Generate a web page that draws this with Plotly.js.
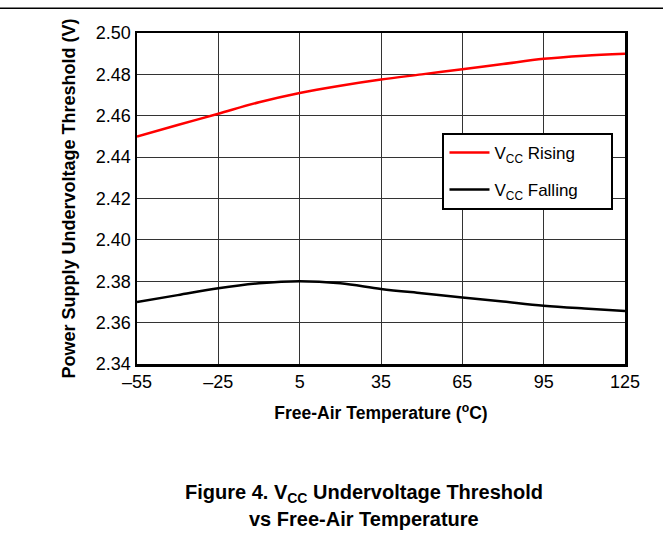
<!DOCTYPE html>
<html>
<head>
<meta charset="utf-8">
<script src="https://cdn.plot.ly/plotly-3.0.1.min.js"></script>
<style>html,body{margin:0;padding:0;background:#fff;}#chart{width:663px;height:533px;}</style>
</head>
<body>
<div id="chart"></div>
<script>
const temperature = [-55, -40, -25, -10, 5, 20, 35, 50, 65, 80, 95, 110, 125];
const vccRising  = [2.450, 2.4555, 2.461, 2.4665, 2.471, 2.4745, 2.4775, 2.480, 2.4825, 2.485, 2.4875, 2.489, 2.490];
const vccFalling = [2.370, 2.3733, 2.3766, 2.3790, 2.380, 2.3790, 2.3763, 2.3742, 2.3722, 2.3702, 2.3682, 2.3668, 2.3656];
const xTickVals = [-55, -25, 5, 35, 65, 95, 125];
const xTickText = ["\u201355", "\u201325", "5", "35", "65", "95", "125"];
const yTickVals = [2.34, 2.36, 2.38, 2.40, 2.42, 2.44, 2.46, 2.48, 2.50];

const font = "Arial, 'Liberation Sans', sans-serif";
const pad = "\u00a0\u00a0\u00a0\u00a0\u00a0\u00a0";
const traces = [
  {x: temperature, y: vccRising, name: "V<sub>CC</sub> Rising" + pad, legendgroup: "r", mode: "lines", line: {color: "#ff0000", width: 2.5, shape: "spline"}},
  {x: temperature, y: vccFalling, name: "V<sub>CC</sub> Falling" + pad, legendgroup: "f", mode: "lines", line: {color: "#000000", width: 2.5, shape: "spline"}}
];
const layout = {
  width: 663, height: 533,
  margin: {l: 137, r: 38, t: 33, b: 169},
  paper_bgcolor: "#fff", plot_bgcolor: "#fff",
  font: {family: font, size: 17, color: "#000"},
  showlegend: true,
  legend: {x: 0.626, y: 0.698, xanchor: "left", yanchor: "top", bgcolor: "#fff", bordercolor: "#000", borderwidth: 2, font: {family: font, size: 17, color: "#000"}, tracegroupgap: 12, itemwidth: 40},
  xaxis: {range: [-55, 125], tickvals: xTickVals, ticktext: xTickText, showgrid: true, gridcolor: "#333", gridwidth: 1, zeroline: false,
          showline: true, linecolor: "#000", linewidth: 2.5, mirror: true, ticks: "", ticklen: 0,
          tickfont: {family: font, size: 18, color: "#000"},
          title: {text: "<b>Free-Air Temperature (<sup>o</sup>C)</b>", font: {family: font, size: 17.5, color: "#000"}, standoff: 16}},
  yaxis: {range: [2.34, 2.50], tickvals: yTickVals, tickformat: ".2f", showgrid: true, gridcolor: "#333", gridwidth: 1, zeroline: false,
          showline: true, linecolor: "#000", linewidth: 2.5, mirror: true, ticks: "",
          tickfont: {family: font, size: 18, color: "#000"},
          title: {text: "<b>Power Supply Undervoltage Threshold (V)</b>", font: {family: font, size: 18, color: "#000"}, standoff: 16}},
  shapes: [
    {type: "line", xref: "paper", yref: "paper", x0: -0.3, x1: 1.2, y0: 1.075, y1: 1.075, line: {color: "#000", width: 1.5}}
  ],
  annotations: [
    {xref: "paper", yref: "paper", x: 0.465, y: -0.39, xanchor: "center", yanchor: "middle", showarrow: false,
     text: "<b>Figure 4. V<sub>CC</sub> Undervoltage Threshold</b>", font: {family: font, size: 20, color: "#000"}},
    {xref: "paper", yref: "paper", x: 0.465, y: -0.468, xanchor: "center", yanchor: "middle", showarrow: false,
     text: "<b>vs Free-Air Temperature</b>", font: {family: font, size: 20, color: "#000"}}
  ]
};
Plotly.newPlot("chart", traces, layout, {displayModeBar: false, staticPlot: true});
</script>
</body>
</html>
